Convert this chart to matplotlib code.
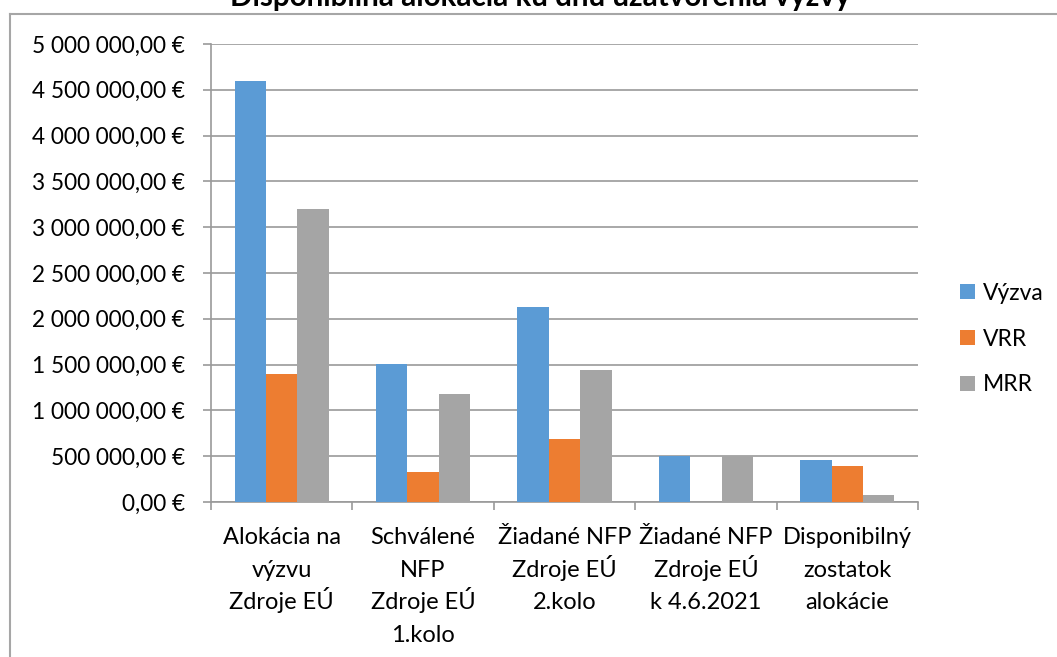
import matplotlib
matplotlib.use("Agg")
import matplotlib.pyplot as plt
from matplotlib.lines import Line2D
from matplotlib.ticker import FuncFormatter, FixedLocator
from matplotlib.transforms import blended_transform_factory
import numpy as np

plt.rcParams['font.family'] = ['Lato', 'DejaVu Sans']

title = "Disponibilná alokácia ku dňu uzatvorenia výzvy"
categories = [
    "Alokácia na\nvýzvu\nZdroje EÚ",
    "Schválené\nNFP\nZdroje EÚ\n1.kolo",
    "Žiadané NFP\nZdroje EÚ\n2.kolo",
    "Žiadané NFP\nZdroje EÚ\nk 4.6.2021",
    "Disponibilný\nzostatok\nalokácie",
]
series_names = ["Výzva", "VRR", "MRR"]
vyzva = [4600000, 1510000, 2129000, 502000, 462000]
vrr = [1400000, 328000, 684000, 0, 388000]
mrr = [3200000, 1182000, 1445000, 502000, 74000]
colors = ["#5B9BD5", "#ED7D31", "#A5A5A5"]
yticks = [0, 500000, 1000000, 1500000, 2000000, 2500000, 3000000,
          3500000, 4000000, 4500000, 5000000]

W, H = 1057, 657
fig = plt.figure(figsize=(W / 100, H / 100), dpi=100)
fig.patch.set_facecolor("white")

left, right, top, bottom = 211, 918, 44, 502
ax = fig.add_axes([left / W, 1 - bottom / H, (right - left) / W, (bottom - top) / H])

x = np.arange(len(categories))
bw = 1 / 4.5
data = [vyzva, vrr, mrr]
handles = []
for i, (vals, c, name) in enumerate(zip(data, colors, series_names)):
    b = ax.bar(x + (i - 1) * bw, vals, width=bw, color=c, label=name, zorder=3,
               edgecolor='none')
    handles.append(b)

ax.set_xlim(-0.5, len(categories) - 0.5)
ax.set_ylim(0, 5000000)

grid_c = "#9a9a9a"
ax.set_yticks(yticks)
ax.yaxis.set_major_formatter(FuncFormatter(
    lambda v, p: f"{v:,.2f}".replace(",", " ").replace(".", ",") + " €"))
ax.grid(axis='y', color=grid_c, linewidth=1.2, zorder=0)
ax.set_axisbelow(True)

for s in ["top", "right"]:
    ax.spines[s].set_visible(False)
for s in ["left", "bottom"]:
    ax.spines[s].set_color(grid_c)
    ax.spines[s].set_linewidth(1.2)

ax.tick_params(axis='y', direction='out', length=5.8, width=1.2, color=grid_c,
               pad=13, labelsize=16.3, labelcolor="#000000")
ax.set_xticks(x)
ax.set_xticklabels([])
ax.tick_params(axis='x', which='major', length=0)
ax.xaxis.set_minor_locator(FixedLocator(np.arange(-0.5, len(categories), 1.0)))
ax.tick_params(axis='x', which='minor', direction='out', length=5.8, width=1.2,
               color=grid_c)

# category labels, evenly spaced lines (like the Excel original)
tr = blended_transform_factory(ax.transData, fig.transFigure)
first_baseline, line_step = 544, 32.7
for xi, cat in zip(x, categories):
    for k, line in enumerate(cat.split("\n")):
        ax.text(xi, 1 - (first_baseline + line_step * k) / H, line,
                transform=tr, ha='center', va='baseline', fontsize=17,
                color="#000000", clip_on=False)

leg = ax.legend(handles=handles, loc='center left',
                bbox_to_anchor=(960 / W, 1 - 339 / H),
                bbox_transform=fig.transFigure, frameon=False, fontsize=16.5,
                handlelength=0.65, handleheight=0.65, handletextpad=0.35,
                labelspacing=1.09, borderaxespad=0, borderpad=0)

# chart border
bc = "#a6a6a6"
fig.add_artist(Line2D([9.5 / W, 1.0], [1 - 13.5 / H, 1 - 13.5 / H],
                      transform=fig.transFigure, color=bc, linewidth=1.5))
fig.add_artist(Line2D([9.5 / W, 9.5 / W], [1 - 13.5 / H, 0],
                      transform=fig.transFigure, color=bc, linewidth=1.5))

fig.text(540 / W, 1 - 6 / H, title, ha='center', va='baseline', fontsize=21.3,
         fontweight='bold', color="#000000")

fig.savefig("out.png", dpi=100, facecolor="white")
